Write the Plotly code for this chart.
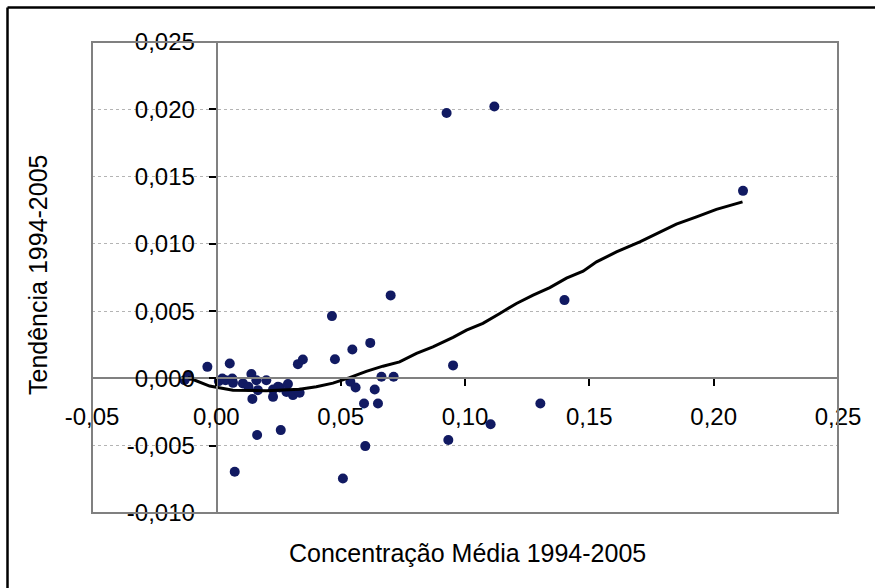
import plotly.graph_objects as go

# Scatter data (Concentração Média vs Tendência)
conc = [-0.0128, -0.0111, -0.0036, 0.0054, 0.0010, 0.0024, 0.0037, 0.0064, 0.0067, 0.0107,
        0.0141, 0.0129, 0.0145, 0.0161, 0.0167, 0.0201, 0.0228, 0.0228, 0.0255, 0.0288,
        0.0282, 0.0308, 0.0335, 0.0328, 0.0348, 0.0164, 0.0259, 0.0074, 0.0465, 0.0477,
        0.0509, 0.0547, 0.0619, 0.0539, 0.0560, 0.0594, 0.0637, 0.0650, 0.0599, 0.0664,
        0.0713, 0.0701, 0.0952, 0.1303, 0.1103, 0.0933, 0.0926, 0.1118, 0.2118, 0.1400,
        0.0248]
tend = [-0.00013, 0.00017, 0.00086, 0.00111, -0.00020, 0.00000, -0.00013, 0.00000, -0.00033, -0.00037,
        0.00032, -0.00062, -0.00152, -0.00013, -0.00087, -0.00013, -0.00082, -0.00137, -0.00067, -0.00042,
        -0.00100, -0.00124, -0.00107, 0.00106, 0.00141, -0.00421, -0.00384, -0.00694, 0.00463, 0.00143,
        -0.00743, 0.00215, 0.00264, -0.00025, -0.00067, -0.00186, -0.00082, -0.00186, -0.00503, 0.00012,
        0.00012, 0.00617, 0.00097, -0.00186, -0.00340, -0.00458, 0.01973, 0.02021, 0.01394, 0.00582,
        -0.00062]

# Smoothed trend curve
curve_x = [-0.0114, -0.0027, 0.0067, 0.0201, 0.0335, 0.0402, 0.0469, 0.0536, 0.0603, 0.0670,
           0.0737, 0.0805, 0.0871, 0.0952, 0.1006, 0.1072, 0.1140, 0.1207, 0.1274, 0.1341,
           0.1408, 0.1475, 0.1529, 0.1609, 0.1703, 0.1770, 0.1850, 0.1931, 0.2011, 0.2116]
curve_y = [0.00007, -0.00057, -0.00087, -0.00092, -0.00080, -0.00062, -0.00035, 0.00006, 0.00053, 0.00091,
           0.00123, 0.00186, 0.00235, 0.00305, 0.00359, 0.00409, 0.00483, 0.00557, 0.00619, 0.00675,
           0.00745, 0.00797, 0.00866, 0.00940, 0.01015, 0.01077, 0.01146, 0.01201, 0.01256, 0.01312]

x_tick_vals = [-0.05, 0.0, 0.05, 0.10, 0.15, 0.20, 0.25]
x_tick_labels = ["-0,05", "0,00", "0,05", "0,10", "0,15", "0,20", "0,25"]
y_tick_vals = [-0.010, -0.005, 0.0, 0.005, 0.010, 0.015, 0.020, 0.025]
y_tick_labels = ["-0,010", "-0,005", "0,000", "0,005", "0,010", "0,015", "0,020", "0,025"]

x_title = "Concentração Média 1994-2005"
y_title = "Tendência 1994-2005"

FONT = "Liberation Sans, Arial, sans-serif"

# figure fills the window (body margin removed below); plot area in pixels
W, H = 875, 588
L, T, PW, PH = 92, 42, 746, 471


def px(sx):
    return (sx - L) / PW


def py(sy):
    return (T + PH - sy) / PH


fig = go.Figure()
fig.add_trace(go.Scatter(x=conc, y=tend, mode="markers",
                         marker=dict(size=10, color="#111a62"),
                         showlegend=False, hoverinfo="skip"))
fig.add_trace(go.Scatter(x=curve_x, y=curve_y, mode="lines",
                         line=dict(color="black", width=3),
                         showlegend=False, hoverinfo="skip"))

fig.update_layout(
    width=W, height=H,
    margin=dict(l=L, r=W - L - PW, t=T, b=H - T - PH),
    paper_bgcolor="white", plot_bgcolor="white",
    font=dict(family=FONT, size=24, color="black"),
    xaxis=dict(range=[-0.05, 0.25], tickvals=x_tick_vals, ticktext=x_tick_labels,
               anchor="free", position=py(378.3),
               showline=True, linecolor="#808080", linewidth=2,
               ticks="outside", ticklen=7, tickwidth=1.5, tickcolor="black",
               showgrid=False, zeroline=False, ticklabelstandoff=10,
               tickfont=dict(size=24)),
    yaxis=dict(range=[-0.010, 0.025], tickvals=y_tick_vals, ticktext=y_tick_labels,
               anchor="free", position=px(216.7),
               showline=True, linecolor="#808080", linewidth=2,
               ticks="outside", ticklen=7, tickwidth=1.5, tickcolor="black",
               showgrid=True, gridcolor="#b4b4b4", griddash="dot", gridwidth=1,
               zeroline=False, ticklabelstandoff=9,
               tickfont=dict(size=24)),
    shapes=[
        dict(type="rect", xref="paper", yref="paper", x0=0, y0=0, x1=1, y1=1,
             line=dict(color="#808080", width=2), layer="above"),
        dict(type="line", xref="paper", yref="paper",
             x0=px(7.5), x1=px(7.5), y0=py(7.5), y1=-0.3,
             line=dict(color="black", width=2.5)),
        dict(type="line", xref="paper", yref="paper",
             x0=px(7.5), x1=1.2, y0=py(7.5), y1=py(7.5),
             line=dict(color="black", width=2.5)),
    ],
    annotations=[
        dict(text=x_title, xref="paper", yref="paper",
             x=px(467), y=py(553), xanchor="center", yanchor="middle",
             showarrow=False, font=dict(size=25, family=FONT, color="black")),
        dict(text=y_title, xref="paper", yref="paper", textangle=-90,
             x=px(38), y=py(275), xanchor="center", yanchor="middle",
             showarrow=False, font=dict(size=25, family=FONT, color="black")),
    ],
)

fig.write_html("out.html",
               config={"displayModeBar": False},
               post_script="document.body.style.margin='0';document.body.style.overflow='hidden';")
